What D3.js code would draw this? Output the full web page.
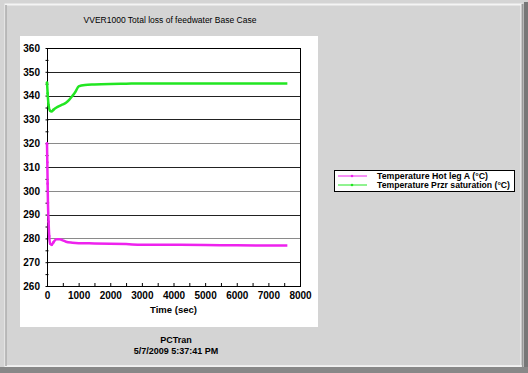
<!DOCTYPE html>
<html>
<head>
<meta charset="utf-8">
<script src="https://cdn.jsdelivr.net/npm/d3@7"></script>
<style>
body { margin: 0; background: #d4d4d4; }
svg { display: block; }
text { font-family: Arial, "Liberation Sans", sans-serif; }
</style>
</head>
<body>
<svg class="chart"></svg>
<script>
var title = "VVER1000 Total loss of feedwater Base Case";
var seriesNames = ["Temperature Hot leg A (\u00b0C)", "Temperature Przr saturation (\u00b0C)"];
var seriesColors = ["#ee22ee", "#22e622"];
var xTicks = [0, 1000, 2000, 3000, 4000, 5000, 6000, 7000, 8000];
var yTicks = [260, 270, 280, 290, 300, 310, 320, 330, 340, 350, 360];

// time (sec)
var hotTime = [0, 10, 20, 30, 50, 70, 100, 150, 200, 300, 400, 500, 600, 800, 1000, 1500, 2000, 2500, 3000, 4000, 5000, 6000, 7000, 7600];
var hotTemp = [320, 312, 303, 295, 287, 281, 277.8, 277.3, 278.3, 279.6, 279.6, 279.2, 278.6, 278.2, 278.0, 277.9, 277.8, 277.6, 277.3, 277.3, 277.2, 277.1, 277.0, 277.0];
var przTime = [0, 20, 50, 100, 150, 200, 300, 400, 500, 600, 700, 800, 900, 1000, 1200, 1500, 2000, 2500, 3000, 4000, 5000, 6000, 7000, 7600];
var przTemp = [345.5, 341, 336, 333.6, 333.4, 334, 335, 335.7, 336.3, 337, 338.2, 339.8, 341.6, 343.9, 344.5, 344.7, 344.9, 345.0, 345.1, 345.1, 345.1, 345.1, 345.1, 345.1];

var frameWidth = 528, frameHeight = 373;
var svg = d3.select(".chart").attr("width", frameWidth).attr("height", frameHeight);

// window frame
svg.append("rect").attr("x", 0).attr("y", 0).attr("width", frameWidth).attr("height", frameHeight).attr("fill", "#d4d4d4");
svg.append("rect").attr("x", 5.5).attr("y", 4.5).attr("width", 516).attr("height", 362)
	.attr("fill", "#d4d4d4").attr("stroke", "#f4f4f4").attr("stroke-width", 2);
svg.append("line").attr("x1", 522.5).attr("x2", 522.5).attr("y1", 4).attr("y2", 368).attr("stroke", "#999").attr("stroke-width", 2);
svg.append("line").attr("x1", 526).attr("x2", 526).attr("y1", 2).attr("y2", 373).attr("stroke", "#777").attr("stroke-width", 4);
svg.append("line").attr("x1", 0).attr("x2", 528).attr("y1", 370).attr("y2", 370).attr("stroke", "#888").attr("stroke-width", 6);
svg.append("line").attr("x1", 6).attr("x2", 522).attr("y1", 366).attr("y2", 366).attr("stroke", "#f0f0f0").attr("stroke-width", 1.5);
svg.append("line").attr("x1", 6).attr("x2", 6).attr("y1", 5).attr("y2", 366).attr("stroke", "#a8a8a8").attr("stroke-width", 1.5);

// white panel
svg.append("rect").attr("x", 20).attr("y", 36).attr("width", 298).attr("height", 291).attr("fill", "#fff");

svg.append("text").attr("x", 170).attr("y", 23).attr("text-anchor", "middle")
	.style("font-size", "8.5px").attr("fill", "#000").text(title);

var lmargin = 47, tmargin = 48;
var width = 253, height = 238;
var xScale = d3.scaleLinear().domain([0, 8000]).range([0, width]);
var yScale = d3.scaleLinear().domain([260, 360]).range([height, 0]);

var g = svg.append("g").attr("transform", "translate(" + lmargin + "," + tmargin + ")");

// gridlines
g.selectAll(".grid").data(yTicks.slice(1, -1)).enter().append("line")
	.attr("x1", 0).attr("x2", width)
	.attr("y1", function(d) { return Math.round(yScale(d)) + 0.5; })
	.attr("y2", function(d) { return Math.round(yScale(d)) + 0.5; })
	.attr("stroke", function(d) { return (d == 320 || d == 300 || d == 280) ? "#8a8a8a" : "#222"; })
	.attr("stroke-width", 1);

g.append("rect").attr("x", 0.5).attr("y", 0.5).attr("width", width).attr("height", height)
	.attr("fill", "none").attr("stroke", "#000");

// axes
var yAxis = g.append("g").call(d3.axisLeft(yScale).tickValues(yTicks).tickSize(3).tickFormat(d3.format("d")));
var yMinor = g.append("g").call(d3.axisLeft(yScale).tickValues(d3.range(265, 360, 10)).tickSize(3).tickFormat(""));
var xAxis = g.append("g").attr("transform", "translate(0," + height + ")")
	.call(d3.axisBottom(xScale).tickValues(xTicks).tickSize(0).tickPadding(6).tickFormat(d3.format("d")));
var xMinor = g.append("g").attr("transform", "translate(0," + height + ")")
	.call(d3.axisBottom(xScale).tickValues(d3.range(500, 8000, 500)).tickSize(-3).tickFormat(""));
[yAxis, yMinor, xAxis, xMinor].forEach(function(a) {
	a.select(".domain").remove();
	a.selectAll("text").style("font-size", "10px").style("font-weight", "bold").attr("fill", "#000")
		.style("font-family", "Arial, 'Liberation Sans', sans-serif");
	a.selectAll("line").attr("stroke", "#000");
});
yAxis.selectAll("text").attr("dx", "-1px");
yMinor.selectAll(".tick line").attr("transform", "translate(1.5,0)");
yAxis.selectAll(".tick line").attr("transform", "translate(1.5,0)");

svg.append("text").attr("x", lmargin + width / 2).attr("y", 313).attr("text-anchor", "middle")
	.style("font-size", "9.5px").style("font-weight", "bold").text("Time (sec)");

// lines
var series = [
	{ x: hotTime, y: hotTemp, color: seriesColors[0] },
	{ x: przTime, y: przTemp, color: seriesColors[1] }
];
var line = d3.line()
	.x(function(d) { return xScale(d[0]); })
	.y(function(d) { return yScale(d[1]); })
	.curve(d3.curveMonotoneX);
series.forEach(function(s) {
	var pts = s.x.map(function(t, i) { return [t, s.y[i]]; });
	g.append("path").datum(pts).attr("d", line).attr("fill", "none")
		.attr("stroke", s.color).attr("stroke-width", 2.5);
	g.selectAll(null).data(pts.filter(function(d) { return d[0] <= 200; })).enter().append("circle")
		.attr("cx", function(d) { return xScale(d[0]); })
		.attr("cy", function(d) { return yScale(d[1]); })
		.attr("r", 1.3).attr("fill", s.color);
});

// legend
var legend = svg.append("g").attr("transform", "translate(334,170)");
legend.append("rect").attr("x", 0.5).attr("y", 0.5).attr("width", 180).attr("height", 21)
	.attr("fill", "#fff").attr("stroke", "#000").attr("stroke-width", 1);
var legendLen = [111, 133];
seriesNames.forEach(function(name, i) {
	var yy = 6 + i * 9;
	legend.append("line").attr("x1", 4).attr("x2", 33).attr("y1", yy).attr("y2", yy)
		.attr("stroke", seriesColors[i]).attr("stroke-width", 1);
	legend.append("circle").attr("cx", 18).attr("cy", yy).attr("r", 1.3).attr("fill", seriesColors[i]);
	legend.append("text").attr("x", 43).attr("y", yy + 3).style("font-size", "8.5px")
		.style("font-weight", "bold")
		.attr("textLength", legendLen[i]).attr("lengthAdjust", "spacingAndGlyphs").text(name);
});

// footer
svg.append("text").attr("x", 176).attr("y", 343).attr("text-anchor", "middle")
	.style("font-size", "9px").style("font-weight", "bold").text("PCTran");
svg.append("text").attr("x", 176).attr("y", 354).attr("text-anchor", "middle")
	.style("font-size", "9px").style("font-weight", "bold").text("5/7/2009 5:37:41 PM");
</script>
</body>
</html>
